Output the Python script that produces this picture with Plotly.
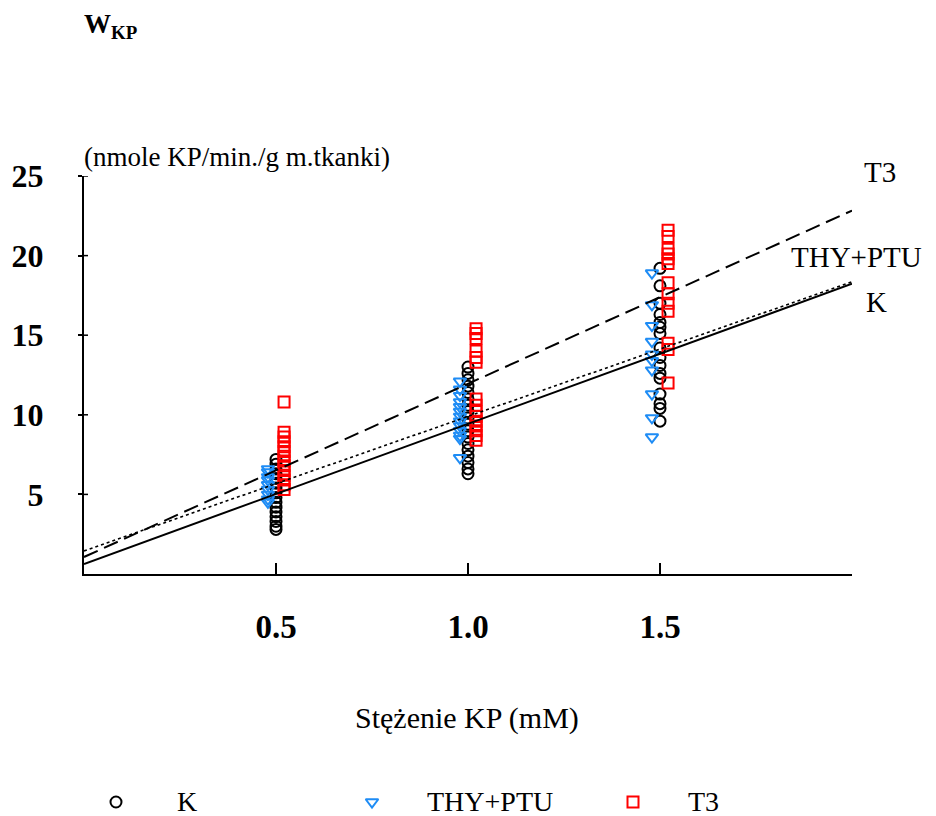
import plotly.graph_objects as go

# ---------------- data ----------------
concentrations = [0.5, 1.0, 1.5]
x_tick_labels = ["0.5", "1.0", "1.5"]
y_tick_vals = [5, 10, 15, 20, 25]

groups = ["K", "THY+PTU", "T3"]

k_values = [
    [7.2, 6.9, 6.6, 6.3, 6.0, 5.7, 5.4, 5.1, 4.8, 4.5, 4.2, 3.9, 3.6, 3.3, 3.0, 2.8],
    [13.0, 12.6, 12.2, 11.8, 11.4, 11.0, 10.6, 10.2, 9.8, 9.4, 9.0, 8.6, 8.2, 7.8, 7.4, 7.0, 6.6, 6.3],
    [19.2, 18.1, 17.0, 16.3, 15.8, 15.5, 15.1, 14.2, 13.6, 13.1, 12.6, 12.3, 11.3, 10.7, 10.4, 9.6],
]
thy_values = [
    [6.6, 6.4, 6.1, 5.9, 5.6, 5.3, 5.0, 4.7, 4.5],
    [12.1, 11.6, 11.2, 10.8, 10.5, 10.2, 9.9, 9.6, 9.3, 9.0, 8.7, 8.5, 7.3],
    [18.9, 16.9, 15.6, 14.6, 13.8, 13.4, 12.8, 11.3, 9.8, 8.6],
]
t3_values = [
    [10.8, 8.9, 8.6, 8.3, 8.0, 7.7, 7.4, 7.1, 6.8, 6.5, 6.2, 5.9, 5.6, 5.3],
    [15.4, 15.1, 14.8, 14.0, 13.6, 13.3, 11.0, 10.6, 10.2, 9.9, 9.6, 9.3, 9.0, 8.7, 8.4],
    [21.6, 21.2, 20.4, 20.1, 19.8, 19.5, 18.3, 17.6, 17.0, 16.5, 14.5, 14.1, 12.0],
]

# regression lines (intercept, slope)
k_fit = (0.63, 8.80)
thy_fit = (1.45, 8.45)
t3_fit = (1.07, 10.88)
fit_x_range = [0.0, 2.0]

# ---------------- style ----------------
W, H = 936, 816
FONT = "Liberation Serif, Times New Roman, Times, serif"
BLUE = "#1E8CF5"
RED = "#FF0000"

X0_PX, X1_PX = 84, 852
Y0_PX, Y1_PX = 574, 176


def px(x):
    return x / W


def py(y):
    return 1 - y / H


series = [
    ("K", k_values, "circle-open", "black", 0.0, k_fit, "solid", 2),
    ("THY+PTU", thy_values, "triangle-down-open", BLUE, -0.021, thy_fit, "dot", 1.6),
    ("T3", t3_values, "square-open", RED, 0.021, t3_fit, "dash", 2),
]

fig = go.Figure()

for name, vals, sym, col, off, fit, dash, lw in series:
    xs, ys = [], []
    for c, vlist in zip(concentrations, vals):
        for v in vlist:
            xs.append(c + off)
            ys.append(v)
    fig.add_trace(go.Scatter(
        x=xs, y=ys, mode="markers", name=name, showlegend=False,
        marker=dict(symbol=sym, size=11, color=col, line=dict(width=2, color=col)),
        cliponaxis=False,
    ))

for name, vals, sym, col, off, fit, dash, lw in series:
    b, m = fit
    fig.add_trace(go.Scatter(
        x=fit_x_range, y=[b + m * x for x in fit_x_range], mode="lines",
        showlegend=False,
        line=dict(color="black", width=lw, dash="15px,7px" if dash == "dash" else dash),
    ))

# legend markers (separate invisible axes at the bottom)
legend_x_px = [116, 372, 633]
for (name, vals, sym, col, off, fit, dash, lw), lx in zip(series, legend_x_px):
    fig.add_trace(go.Scatter(
        x=[lx], y=[14], mode="markers", showlegend=False, xaxis="x2", yaxis="y2",
        marker=dict(symbol=sym, size=11, color=col, line=dict(width=2, color=col)),
        cliponaxis=False,
    ))

fig.update_layout(
    width=W, height=H,
    margin=dict(l=0, r=0, t=0, b=0, autoexpand=False),
    paper_bgcolor="white", plot_bgcolor="rgba(0,0,0,0)",
    font=dict(family=FONT, color="black"),
    xaxis=dict(
        domain=[px(X0_PX), px(X1_PX)], range=[0, 2.0],
        tickvals=concentrations, ticktext=[f"<b>{t}</b>" for t in x_tick_labels],
        ticks="inside", ticklen=11, tickwidth=2, tickcolor="black",
        showline=True, linecolor="black", linewidth=2,
        showgrid=False, zeroline=False,
        tickfont=dict(family=FONT, size=33, color="black"),
        ticklabelstandoff=22,
    ),
    yaxis=dict(
        domain=[py(Y0_PX), py(Y1_PX)], range=[0, 25],
        tickvals=y_tick_vals, ticktext=[f"<b>{v}</b>" for v in y_tick_vals],
        ticks="outside", ticklen=4, tickwidth=1.5, tickcolor="black",
        showline=True, linecolor="black", linewidth=2,
        showgrid=False, zeroline=False,
        tickfont=dict(family=FONT, size=32, color="black"),
        ticklabelstandoff=28,
    ),
    xaxis2=dict(domain=[0, 1], range=[0, W], visible=False, anchor="y2"),
    yaxis2=dict(domain=[0, 0.06], range=[0, 0.06 * H], visible=False, anchor="x2"),
)

# inner halves of the cross-ticks on the y axis
for v in y_tick_vals:
    fig.add_shape(type="line", xref="x domain", yref="y", x0=0, x1=4 / (X1_PX - X0_PX),
                  y0=v, y1=v, line=dict(color="black", width=1.5))

ann = [
    dict(text="<b>W<sub>KP</sub></b>", x=px(82), y=py(26), xanchor="left", yanchor="middle", size=27),
    dict(text="(nmole KP/min./g m.tkanki)", x=px(82), y=py(157), xanchor="left", yanchor="middle", size=27),
    dict(text="Stężenie KP (mM)", x=px(467), y=py(718), xanchor="center", yanchor="middle", size=30),
    dict(text="T3", x=px(862), y=py(172), xanchor="left", yanchor="middle", size=29),
    dict(text="THY+PTU", x=px(789), y=py(257), xanchor="left", yanchor="middle", size=29),
    dict(text="K", x=px(864), y=py(302), xanchor="left", yanchor="middle", size=29),
    dict(text="K", x=px(175), y=py(801), xanchor="left", yanchor="middle", size=28),
    dict(text="THY+PTU", x=px(425), y=py(801), xanchor="left", yanchor="middle", size=28),
    dict(text="T3", x=px(686), y=py(801), xanchor="left", yanchor="middle", size=28),
]
for a in ann:
    fig.add_annotation(text=a["text"], x=a["x"], y=a["y"], xref="paper", yref="paper",
                       xanchor=a["xanchor"], yanchor=a["yanchor"], showarrow=False,
                       font=dict(family=FONT, size=a["size"], color="black"))

fig.write_html("out.html")
